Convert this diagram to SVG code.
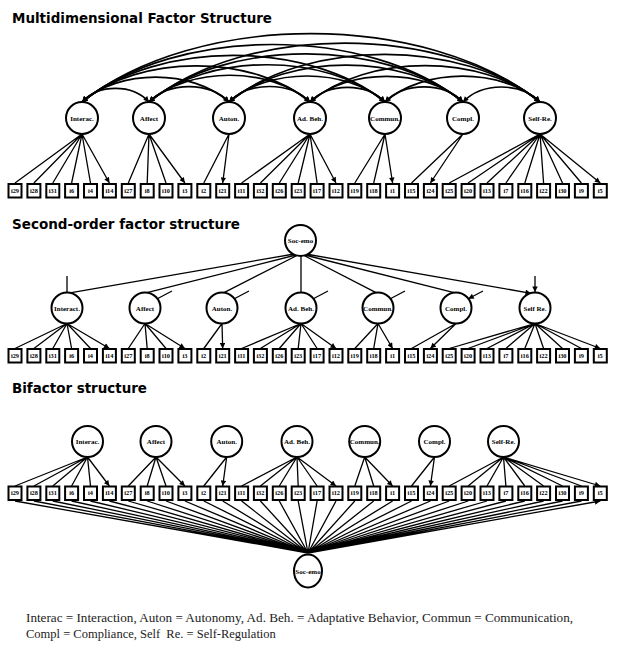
<svg xmlns="http://www.w3.org/2000/svg" width="618" height="650" viewBox="0 0 618 650">
<style>
.box{fill:#fff;stroke:#000;stroke-width:2}
.lv{fill:#fff;stroke:#000;stroke-width:2}
.ln{stroke:#000;stroke-width:1.3;fill:none;marker-end:url(#ah)}
.arc{stroke:#000;stroke-width:1.7;fill:none;marker-start:url(#ah);marker-end:url(#ah)}
.lbl{font-family:"Liberation Serif","Times New Roman",serif;font-weight:bold;font-size:7px;text-anchor:middle}
.it{font-family:"Liberation Serif","Times New Roman",serif;font-weight:bold;font-size:6.3px;text-anchor:middle}
.ttl{font-family:"DejaVu Sans",Verdana,sans-serif;font-weight:bold;font-size:13.5px}
.leg{font-family:"Liberation Serif","Times New Roman",serif;font-size:12.5px;fill:#222}
</style>
<defs>
<marker id="ah" viewBox="0 0 10 10" refX="10" refY="5" markerWidth="7" markerHeight="5.5" markerUnits="userSpaceOnUse" orient="auto-start-reverse"><path d="M0,0 L10,5 L0,10 z" fill="#000"/></marker>
</defs>
<rect width="618" height="650" fill="#fff"/>

<text class="ttl" x="12" y="23" textLength="260" lengthAdjust="spacingAndGlyphs">Multidimensional Factor Structure</text>
<text class="ttl" x="12" y="229" textLength="228" lengthAdjust="spacingAndGlyphs">Second-order factor structure</text>
<text class="ttl" x="12" y="393" textLength="135" lengthAdjust="spacingAndGlyphs">Bifactor structure</text>

<!-- ===== Section 1 connectors ===== -->
<g id="connectors-1">
<path class="arc" d="M82,102 C98.8,83.9 132.2,83.9 149,102"/>
<path class="arc" d="M82,102 C118.8,68.9 192.2,68.9 229,102"/>
<path class="arc" d="M82,102 C139,53.8 253,53.8 310,102"/>
<path class="arc" d="M82,102 C157.8,39.9 309.2,39.9 385,102"/>
<path class="arc" d="M82,102 C177.3,25.3 367.7,25.3 463,102"/>
<path class="arc" d="M82,102 C196.5,10.9 425.5,10.9 540,102"/>
<path class="arc" d="M149,102 C169,81.5 209,81.5 229,102"/>
<path class="arc" d="M149,102 C189.3,66.3 269.7,66.3 310,102"/>
<path class="arc" d="M149,102 C208,52.3 326,52.3 385,102"/>
<path class="arc" d="M149,102 C227.5,37.8 384.5,37.8 463,102"/>
<path class="arc" d="M149,102 C246.8,23.4 442.2,23.4 540,102"/>
<path class="arc" d="M229,102 C249.3,81.3 289.7,81.3 310,102"/>
<path class="arc" d="M229,102 C268,67.3 346,67.3 385,102"/>
<path class="arc" d="M229,102 C287.5,52.7 404.5,52.7 463,102"/>
<path class="arc" d="M229,102 C306.8,38.4 462.2,38.4 540,102"/>
<path class="arc" d="M310,102 C328.8,82.4 366.2,82.4 385,102"/>
<path class="arc" d="M310,102 C348.3,67.8 424.7,67.8 463,102"/>
<path class="arc" d="M310,102 C367.5,53.5 482.5,53.5 540,102"/>
<path class="arc" d="M385,102 C404.5,81.8 443.5,81.8 463,102"/>
<path class="arc" d="M385,102 C423.8,67.5 501.2,67.5 540,102"/>
<path class="arc" d="M463,102 C482.3,82 520.7,82 540,102"/>
<path class="ln" d="M82,134L15,183M82,134L33.9,183M82,134L52.8,183M82,134L71.6,183M82,134L90.5,183M82,134L109.4,183"/>
<path class="ln" d="M149,134L128.3,183M149,134L147.2,183M149,134L166,183M149,134L184.9,183"/>
<path class="ln" d="M229,134L203.8,183M229,134L222.7,183"/>
<path class="ln" d="M310,134L241.6,183M310,134L260.4,183M310,134L279.3,183M310,134L298.2,183M310,134L317.1,183M310,134L336,183"/>
<path class="ln" d="M385,134L354.8,183M385,134L373.7,183M385,134L392.6,183"/>
<path class="ln" d="M463,134L411.5,183M463,134L430.4,183"/>
<path class="ln" d="M540,134L449.2,183M540,134L468.1,183M540,134L487,183M540,134L505.9,183M540,134L524.8,183M540,134L543.6,183M540,134L562.5,183M540,134L581.4,183M540,134L600.3,183"/>
</g>

<!-- Section 1 factors -->
<g id="m-interac"><circle class="lv" cx="82" cy="118" r="16"/><text class="lbl" x="82" y="120.5">Interac.</text></g>
<g id="m-affect"><circle class="lv" cx="149" cy="118" r="16"/><text class="lbl" x="149" y="120.5">Affect</text></g>
<g id="m-auton"><circle class="lv" cx="229" cy="118" r="16"/><text class="lbl" x="229" y="120.5">Auton.</text></g>
<g id="m-adbeh"><circle class="lv" cx="310" cy="118" r="16"/><text class="lbl" x="310" y="120.5">Ad. Beh.</text></g>
<g id="m-commun"><circle class="lv" cx="385" cy="118" r="16"/><text class="lbl" x="385" y="120.5">Commun.</text></g>
<g id="m-compl"><circle class="lv" cx="463" cy="118" r="16"/><text class="lbl" x="463" y="120.5">Compl.</text></g>
<g id="m-selfre"><circle class="lv" cx="540" cy="118" r="16"/><text class="lbl" x="540" y="120.5">Self-Re.</text></g>

<!-- Section 1 items -->
<g id="m-i29"><rect class="box" x="8.5" y="184" width="13" height="13.5"/><text class="it" x="15" y="192.8">i29</text></g>
<g id="m-i28"><rect class="box" x="27.4" y="184" width="13" height="13.5"/><text class="it" x="33.9" y="192.8">i28</text></g>
<g id="m-i31"><rect class="box" x="46.3" y="184" width="13" height="13.5"/><text class="it" x="52.8" y="192.8">i31</text></g>
<g id="m-i6"><rect class="box" x="65.1" y="184" width="13" height="13.5"/><text class="it" x="71.6" y="192.8">i6</text></g>
<g id="m-i4"><rect class="box" x="84" y="184" width="13" height="13.5"/><text class="it" x="90.5" y="192.8">i4</text></g>
<g id="m-i14"><rect class="box" x="102.9" y="184" width="13" height="13.5"/><text class="it" x="109.4" y="192.8">i14</text></g>
<g id="m-i27"><rect class="box" x="121.8" y="184" width="13" height="13.5"/><text class="it" x="128.3" y="192.8">i27</text></g>
<g id="m-i8"><rect class="box" x="140.7" y="184" width="13" height="13.5"/><text class="it" x="147.2" y="192.8">i8</text></g>
<g id="m-i10"><rect class="box" x="159.5" y="184" width="13" height="13.5"/><text class="it" x="166" y="192.8">i10</text></g>
<g id="m-i3"><rect class="box" x="178.4" y="184" width="13" height="13.5"/><text class="it" x="184.9" y="192.8">i3</text></g>
<g id="m-i2"><rect class="box" x="197.3" y="184" width="13" height="13.5"/><text class="it" x="203.8" y="192.8">i2</text></g>
<g id="m-i21"><rect class="box" x="216.2" y="184" width="13" height="13.5"/><text class="it" x="222.7" y="192.8">i21</text></g>
<g id="m-i11"><rect class="box" x="235.1" y="184" width="13" height="13.5"/><text class="it" x="241.6" y="192.8">i11</text></g>
<g id="m-i32"><rect class="box" x="253.9" y="184" width="13" height="13.5"/><text class="it" x="260.4" y="192.8">i32</text></g>
<g id="m-i26"><rect class="box" x="272.8" y="184" width="13" height="13.5"/><text class="it" x="279.3" y="192.8">i26</text></g>
<g id="m-i23"><rect class="box" x="291.7" y="184" width="13" height="13.5"/><text class="it" x="298.2" y="192.8">i23</text></g>
<g id="m-i17"><rect class="box" x="310.6" y="184" width="13" height="13.5"/><text class="it" x="317.1" y="192.8">i17</text></g>
<g id="m-i12"><rect class="box" x="329.5" y="184" width="13" height="13.5"/><text class="it" x="336" y="192.8">i12</text></g>
<g id="m-i19"><rect class="box" x="348.3" y="184" width="13" height="13.5"/><text class="it" x="354.8" y="192.8">i19</text></g>
<g id="m-i18"><rect class="box" x="367.2" y="184" width="13" height="13.5"/><text class="it" x="373.7" y="192.8">i18</text></g>
<g id="m-i1"><rect class="box" x="386.1" y="184" width="13" height="13.5"/><text class="it" x="392.6" y="192.8">i1</text></g>
<g id="m-i15"><rect class="box" x="405" y="184" width="13" height="13.5"/><text class="it" x="411.5" y="192.8">i15</text></g>
<g id="m-i24"><rect class="box" x="423.9" y="184" width="13" height="13.5"/><text class="it" x="430.4" y="192.8">i24</text></g>
<g id="m-i25"><rect class="box" x="442.7" y="184" width="13" height="13.5"/><text class="it" x="449.2" y="192.8">i25</text></g>
<g id="m-i20"><rect class="box" x="461.6" y="184" width="13" height="13.5"/><text class="it" x="468.1" y="192.8">i20</text></g>
<g id="m-i13"><rect class="box" x="480.5" y="184" width="13" height="13.5"/><text class="it" x="487" y="192.8">i13</text></g>
<g id="m-i7"><rect class="box" x="499.4" y="184" width="13" height="13.5"/><text class="it" x="505.9" y="192.8">i7</text></g>
<g id="m-i16"><rect class="box" x="518.3" y="184" width="13" height="13.5"/><text class="it" x="524.8" y="192.8">i16</text></g>
<g id="m-i22"><rect class="box" x="537.1" y="184" width="13" height="13.5"/><text class="it" x="543.6" y="192.8">i22</text></g>
<g id="m-i30"><rect class="box" x="556" y="184" width="13" height="13.5"/><text class="it" x="562.5" y="192.8">i30</text></g>
<g id="m-i9"><rect class="box" x="574.9" y="184" width="13" height="13.5"/><text class="it" x="581.4" y="192.8">i9</text></g>
<g id="m-i5"><rect class="box" x="593.8" y="184" width="13" height="13.5"/><text class="it" x="600.3" y="192.8">i5</text></g>

<!-- ===== Section 2 connectors ===== -->
<g id="connectors-2">
<path class="ln" d="M294,254L70,292.8M296,255L147,292.6M297,255.5L224,292.6M301,256L301,292M304,255.5L376,292.6M305,255L454,292.6M306,254L531,293.3"/>
<path class="ln" d="M67,276L67,292M535,276L535,292"/>
<path class="ln" d="M172,291L157.3,298.8M249,291L234.3,298.8M328,291L313.3,298.8M405,291L390.3,298.8M483,291L468.3,298.8"/>
<path class="ln" d="M67,323.5L15,348.5M67,323.5L33.9,348.5M67,323.5L52.8,348.5M67,323.5L71.6,348.5M67,323.5L90.5,348.5M67,323.5L109.4,348.5"/>
<path class="ln" d="M145,323.5L128.3,348.5M145,323.5L147.2,348.5M145,323.5L166,348.5M145,323.5L184.9,348.5"/>
<path class="ln" d="M222,323.5L203.8,348.5M222,323.5L222.7,348.5"/>
<path class="ln" d="M301,323.5L241.6,348.5M301,323.5L260.4,348.5M301,323.5L279.3,348.5M301,323.5L298.2,348.5M301,323.5L317.1,348.5M301,323.5L336,348.5"/>
<path class="ln" d="M378,323.5L354.8,348.5M378,323.5L373.7,348.5M378,323.5L392.6,348.5"/>
<path class="ln" d="M456,323.5L411.5,348.5M456,323.5L430.4,348.5"/>
<path class="ln" d="M535,323.5L449.2,348.5M535,323.5L468.1,348.5M535,323.5L487,348.5M535,323.5L505.9,348.5M535,323.5L524.8,348.5M535,323.5L543.6,348.5M535,323.5L562.5,348.5M535,323.5L581.4,348.5M535,323.5L600.3,348.5"/>
</g>

<g id="s-socemo"><circle class="lv" cx="300.5" cy="240.5" r="15.5"/><text class="lbl" x="300.5" y="243">Soc-emo</text></g>
<g id="s-interact"><circle class="lv" cx="67" cy="308" r="15.5"/><text class="lbl" x="67" y="310.5">Interact.</text></g>
<g id="s-affect"><circle class="lv" cx="145" cy="308" r="15.5"/><text class="lbl" x="145" y="310.5">Affect</text></g>
<g id="s-auton"><circle class="lv" cx="222" cy="308" r="15.5"/><text class="lbl" x="222" y="310.5">Auton.</text></g>
<g id="s-adbeh"><circle class="lv" cx="301" cy="308" r="15.5"/><text class="lbl" x="301" y="310.5">Ad. Beh.</text></g>
<g id="s-commun"><circle class="lv" cx="378" cy="308" r="15.5"/><text class="lbl" x="378" y="310.5">Commun.</text></g>
<g id="s-compl"><circle class="lv" cx="456" cy="308" r="15.5"/><text class="lbl" x="456" y="310.5">Compl.</text></g>
<g id="s-selfre"><circle class="lv" cx="535" cy="308" r="15.5"/><text class="lbl" x="535" y="310.5">Self Re.</text></g>

<g id="s-i29"><rect class="box" x="8.5" y="349" width="13" height="13.5"/><text class="it" x="15" y="357.8">i29</text></g>
<g id="s-i28"><rect class="box" x="27.4" y="349" width="13" height="13.5"/><text class="it" x="33.9" y="357.8">i28</text></g>
<g id="s-i31"><rect class="box" x="46.3" y="349" width="13" height="13.5"/><text class="it" x="52.8" y="357.8">i31</text></g>
<g id="s-i6"><rect class="box" x="65.1" y="349" width="13" height="13.5"/><text class="it" x="71.6" y="357.8">i6</text></g>
<g id="s-i4"><rect class="box" x="84" y="349" width="13" height="13.5"/><text class="it" x="90.5" y="357.8">i4</text></g>
<g id="s-i14"><rect class="box" x="102.9" y="349" width="13" height="13.5"/><text class="it" x="109.4" y="357.8">i14</text></g>
<g id="s-i27"><rect class="box" x="121.8" y="349" width="13" height="13.5"/><text class="it" x="128.3" y="357.8">i27</text></g>
<g id="s-i8"><rect class="box" x="140.7" y="349" width="13" height="13.5"/><text class="it" x="147.2" y="357.8">i8</text></g>
<g id="s-i10"><rect class="box" x="159.5" y="349" width="13" height="13.5"/><text class="it" x="166" y="357.8">i10</text></g>
<g id="s-i3"><rect class="box" x="178.4" y="349" width="13" height="13.5"/><text class="it" x="184.9" y="357.8">i3</text></g>
<g id="s-i2"><rect class="box" x="197.3" y="349" width="13" height="13.5"/><text class="it" x="203.8" y="357.8">i2</text></g>
<g id="s-i21"><rect class="box" x="216.2" y="349" width="13" height="13.5"/><text class="it" x="222.7" y="357.8">i21</text></g>
<g id="s-i11"><rect class="box" x="235.1" y="349" width="13" height="13.5"/><text class="it" x="241.6" y="357.8">i11</text></g>
<g id="s-i32"><rect class="box" x="253.9" y="349" width="13" height="13.5"/><text class="it" x="260.4" y="357.8">i32</text></g>
<g id="s-i26"><rect class="box" x="272.8" y="349" width="13" height="13.5"/><text class="it" x="279.3" y="357.8">i26</text></g>
<g id="s-i23"><rect class="box" x="291.7" y="349" width="13" height="13.5"/><text class="it" x="298.2" y="357.8">i23</text></g>
<g id="s-i17"><rect class="box" x="310.6" y="349" width="13" height="13.5"/><text class="it" x="317.1" y="357.8">i17</text></g>
<g id="s-i12"><rect class="box" x="329.5" y="349" width="13" height="13.5"/><text class="it" x="336" y="357.8">i12</text></g>
<g id="s-i19"><rect class="box" x="348.3" y="349" width="13" height="13.5"/><text class="it" x="354.8" y="357.8">i19</text></g>
<g id="s-i18"><rect class="box" x="367.2" y="349" width="13" height="13.5"/><text class="it" x="373.7" y="357.8">i18</text></g>
<g id="s-i1"><rect class="box" x="386.1" y="349" width="13" height="13.5"/><text class="it" x="392.6" y="357.8">i1</text></g>
<g id="s-i15"><rect class="box" x="405" y="349" width="13" height="13.5"/><text class="it" x="411.5" y="357.8">i15</text></g>
<g id="s-i24"><rect class="box" x="423.9" y="349" width="13" height="13.5"/><text class="it" x="430.4" y="357.8">i24</text></g>
<g id="s-i25"><rect class="box" x="442.7" y="349" width="13" height="13.5"/><text class="it" x="449.2" y="357.8">i25</text></g>
<g id="s-i20"><rect class="box" x="461.6" y="349" width="13" height="13.5"/><text class="it" x="468.1" y="357.8">i20</text></g>
<g id="s-i13"><rect class="box" x="480.5" y="349" width="13" height="13.5"/><text class="it" x="487" y="357.8">i13</text></g>
<g id="s-i7"><rect class="box" x="499.4" y="349" width="13" height="13.5"/><text class="it" x="505.9" y="357.8">i7</text></g>
<g id="s-i16"><rect class="box" x="518.3" y="349" width="13" height="13.5"/><text class="it" x="524.8" y="357.8">i16</text></g>
<g id="s-i22"><rect class="box" x="537.1" y="349" width="13" height="13.5"/><text class="it" x="543.6" y="357.8">i22</text></g>
<g id="s-i30"><rect class="box" x="556" y="349" width="13" height="13.5"/><text class="it" x="562.5" y="357.8">i30</text></g>
<g id="s-i9"><rect class="box" x="574.9" y="349" width="13" height="13.5"/><text class="it" x="581.4" y="357.8">i9</text></g>
<g id="s-i5"><rect class="box" x="593.8" y="349" width="13" height="13.5"/><text class="it" x="600.3" y="357.8">i5</text></g>

<!-- ===== Section 3 connectors ===== -->
<g id="connectors-3">
<path class="ln" d="M87.5,457L15,486M87.5,457L33.9,486M87.5,457L52.8,486M87.5,457L71.6,486M87.5,457L90.5,486M87.5,457L109.4,486"/>
<path class="ln" d="M156,457L128.3,486M156,457L147.2,486M156,457L166,486M156,457L184.9,486"/>
<path class="ln" d="M226.7,457L203.8,486M226.7,457L222.7,486"/>
<path class="ln" d="M297,457L241.6,486M297,457L260.4,486M297,457L279.3,486M297,457L298.2,486M297,457L317.1,486M297,457L336,486"/>
<path class="ln" d="M364.7,457L354.8,486M364.7,457L373.7,486M364.7,457L392.6,486"/>
<path class="ln" d="M434.5,457L411.5,486M434.5,457L430.4,486"/>
<path class="ln" d="M503.5,457L449.2,486M503.5,457L468.1,486M503.5,457L487,486M503.5,457L505.9,486M503.5,457L524.8,486M503.5,457L543.6,486M503.5,457L562.5,486M503.5,457L581.4,486M503.5,457L600.3,486"/>
<path class="ln" d="M308,553L15,501M308,553L33.9,501M308,553L52.8,501M308,553L71.6,501M308,553L90.5,501M308,553L109.4,501M308,553L128.3,501M308,553L147.2,501M308,553L166,501M308,553L184.9,501M308,553L203.8,501M308,553L222.7,501M308,553L241.6,501M308,553L260.4,501M308,553L279.3,501M308,553L298.2,501M308,553L317.1,501M308,553L336,501M308,553L354.8,501M308,553L373.7,501M308,553L392.6,501M308,553L411.5,501M308,553L430.4,501M308,553L449.2,501M308,553L468.1,501M308,553L487,501M308,553L505.9,501M308,553L524.8,501M308,553L543.6,501M308,553L562.5,501M308,553L581.4,501M308,553L600.3,501"/>
</g>

<g id="b-interac"><circle class="lv" cx="87.5" cy="441.5" r="15.5"/><text class="lbl" x="87.5" y="444">Interac.</text></g>
<g id="b-affect"><circle class="lv" cx="156" cy="441.5" r="15.5"/><text class="lbl" x="156" y="444">Affect</text></g>
<g id="b-auton"><circle class="lv" cx="226.7" cy="441.5" r="15.5"/><text class="lbl" x="226.7" y="444">Auton.</text></g>
<g id="b-adbeh"><circle class="lv" cx="297" cy="441.5" r="15.5"/><text class="lbl" x="297" y="444">Ad. Beh.</text></g>
<g id="b-commun"><circle class="lv" cx="364.7" cy="441.5" r="15.5"/><text class="lbl" x="364.7" y="444">Commun.</text></g>
<g id="b-compl"><circle class="lv" cx="434.5" cy="441.5" r="15.5"/><text class="lbl" x="434.5" y="444">Compl.</text></g>
<g id="b-selfre"><circle class="lv" cx="503.5" cy="441.5" r="15.5"/><text class="lbl" x="503.5" y="444">Self-Re.</text></g>
<g id="b-socemo"><ellipse class="lv" cx="308" cy="571" rx="14" ry="16.5"/><text class="lbl" x="308" y="573.5">Soc-emo</text></g>

<g id="b-i29"><rect class="box" x="8.5" y="486.5" width="13" height="13.5"/><text class="it" x="15" y="495.3">i29</text></g>
<g id="b-i28"><rect class="box" x="27.4" y="486.5" width="13" height="13.5"/><text class="it" x="33.9" y="495.3">i28</text></g>
<g id="b-i31"><rect class="box" x="46.3" y="486.5" width="13" height="13.5"/><text class="it" x="52.8" y="495.3">i31</text></g>
<g id="b-i6"><rect class="box" x="65.1" y="486.5" width="13" height="13.5"/><text class="it" x="71.6" y="495.3">i6</text></g>
<g id="b-i4"><rect class="box" x="84" y="486.5" width="13" height="13.5"/><text class="it" x="90.5" y="495.3">i4</text></g>
<g id="b-i14"><rect class="box" x="102.9" y="486.5" width="13" height="13.5"/><text class="it" x="109.4" y="495.3">i14</text></g>
<g id="b-i27"><rect class="box" x="121.8" y="486.5" width="13" height="13.5"/><text class="it" x="128.3" y="495.3">i27</text></g>
<g id="b-i8"><rect class="box" x="140.7" y="486.5" width="13" height="13.5"/><text class="it" x="147.2" y="495.3">i8</text></g>
<g id="b-i10"><rect class="box" x="159.5" y="486.5" width="13" height="13.5"/><text class="it" x="166" y="495.3">i10</text></g>
<g id="b-i3"><rect class="box" x="178.4" y="486.5" width="13" height="13.5"/><text class="it" x="184.9" y="495.3">i3</text></g>
<g id="b-i2"><rect class="box" x="197.3" y="486.5" width="13" height="13.5"/><text class="it" x="203.8" y="495.3">i2</text></g>
<g id="b-i21"><rect class="box" x="216.2" y="486.5" width="13" height="13.5"/><text class="it" x="222.7" y="495.3">i21</text></g>
<g id="b-i11"><rect class="box" x="235.1" y="486.5" width="13" height="13.5"/><text class="it" x="241.6" y="495.3">i11</text></g>
<g id="b-i32"><rect class="box" x="253.9" y="486.5" width="13" height="13.5"/><text class="it" x="260.4" y="495.3">i32</text></g>
<g id="b-i26"><rect class="box" x="272.8" y="486.5" width="13" height="13.5"/><text class="it" x="279.3" y="495.3">i26</text></g>
<g id="b-i23"><rect class="box" x="291.7" y="486.5" width="13" height="13.5"/><text class="it" x="298.2" y="495.3">i23</text></g>
<g id="b-i17"><rect class="box" x="310.6" y="486.5" width="13" height="13.5"/><text class="it" x="317.1" y="495.3">i17</text></g>
<g id="b-i12"><rect class="box" x="329.5" y="486.5" width="13" height="13.5"/><text class="it" x="336" y="495.3">i12</text></g>
<g id="b-i19"><rect class="box" x="348.3" y="486.5" width="13" height="13.5"/><text class="it" x="354.8" y="495.3">i19</text></g>
<g id="b-i18"><rect class="box" x="367.2" y="486.5" width="13" height="13.5"/><text class="it" x="373.7" y="495.3">i18</text></g>
<g id="b-i1"><rect class="box" x="386.1" y="486.5" width="13" height="13.5"/><text class="it" x="392.6" y="495.3">i1</text></g>
<g id="b-i15"><rect class="box" x="405" y="486.5" width="13" height="13.5"/><text class="it" x="411.5" y="495.3">i15</text></g>
<g id="b-i24"><rect class="box" x="423.9" y="486.5" width="13" height="13.5"/><text class="it" x="430.4" y="495.3">i24</text></g>
<g id="b-i25"><rect class="box" x="442.7" y="486.5" width="13" height="13.5"/><text class="it" x="449.2" y="495.3">i25</text></g>
<g id="b-i20"><rect class="box" x="461.6" y="486.5" width="13" height="13.5"/><text class="it" x="468.1" y="495.3">i20</text></g>
<g id="b-i13"><rect class="box" x="480.5" y="486.5" width="13" height="13.5"/><text class="it" x="487" y="495.3">i13</text></g>
<g id="b-i7"><rect class="box" x="499.4" y="486.5" width="13" height="13.5"/><text class="it" x="505.9" y="495.3">i7</text></g>
<g id="b-i16"><rect class="box" x="518.3" y="486.5" width="13" height="13.5"/><text class="it" x="524.8" y="495.3">i16</text></g>
<g id="b-i22"><rect class="box" x="537.1" y="486.5" width="13" height="13.5"/><text class="it" x="543.6" y="495.3">i22</text></g>
<g id="b-i30"><rect class="box" x="556" y="486.5" width="13" height="13.5"/><text class="it" x="562.5" y="495.3">i30</text></g>
<g id="b-i9"><rect class="box" x="574.9" y="486.5" width="13" height="13.5"/><text class="it" x="581.4" y="495.3">i9</text></g>
<g id="b-i5"><rect class="box" x="593.8" y="486.5" width="13" height="13.5"/><text class="it" x="600.3" y="495.3">i5</text></g>

<text class="leg" x="26" y="622" textLength="547" lengthAdjust="spacingAndGlyphs">Interac = Interaction, Auton = Autonomy, Ad. Beh. = Adaptative Behavior, Commun = Communication,</text>
<text class="leg" x="26" y="638" xml:space="preserve">Compl = Compliance, Self  Re. = Self-Regulation</text>
</svg>
